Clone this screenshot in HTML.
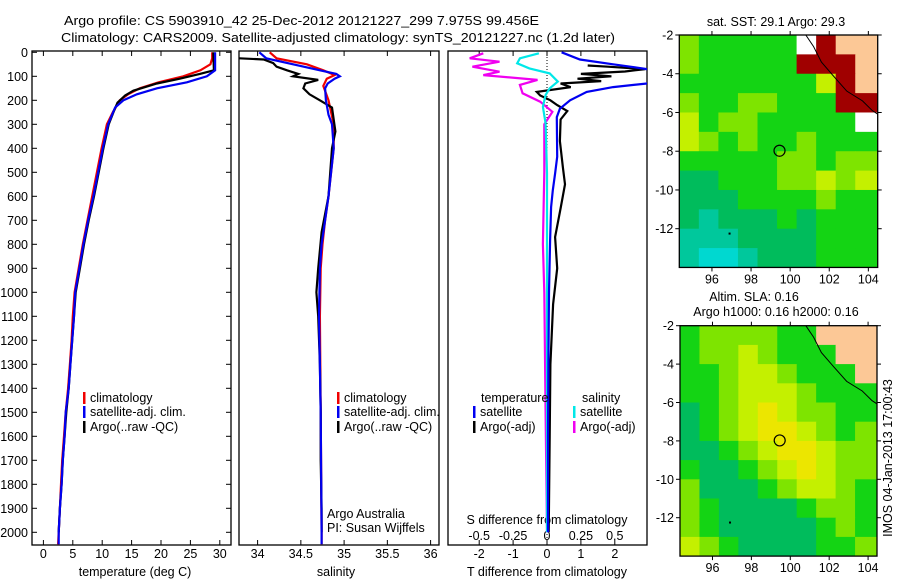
<!DOCTYPE html>
<html><head><meta charset="utf-8"><style>
html,body{margin:0;padding:0;background:#fff;}
svg{display:block;font-family:"Liberation Sans",sans-serif;}
text{fill:#000;}
</style></head><body>
<svg id="fig" width="900" height="580" viewBox="0 0 900 580" xmlns="http://www.w3.org/2000/svg">
<text x="64" y="25" font-size="13" textLength="475" lengthAdjust="spacingAndGlyphs">Argo profile: CS 5903910_42 25-Dec-2012 20121227_299 7.975S 99.456E</text>
<text x="61" y="42" font-size="13" textLength="554" lengthAdjust="spacingAndGlyphs">Climatology: CARS2009. Satellite-adjusted climatology: synTS_20121227.nc (1.2d later)</text>
<g id="g"></g>
</svg>
<script>
// ---------- data ----------
const depthTicks=[0,100,200,300,400,500,600,700,800,900,1000,1100,1200,1300,1400,1500,1600,1700,1800,1900,2000];
const tempTicks=[0,5,10,15,20,25,30];
const salTicks=[34,34.5,35,35.5,36];
const tdiffTicks=[-2,-1,0,1,2];
const sdiffTicks=[-0.5,-0.25,0,0.25,0.5];
const sdiffTickLabels=["-0.5","-0.25","0","0.25","0.5"];

const tClimDepth=[0,25,50,75,100,125,150,175,200,250,300,400,500,600,700,800,900,1000,1100,1200,1300,1400,1500,1600,1700,1800,1900,2000,2050];
const tClimVal=[28.7,28.7,28.4,26.7,23.8,19.6,16.4,14.4,13.0,11.8,10.8,9.9,9.1,8.3,7.5,6.7,6.0,5.3,5.0,4.8,4.5,4.2,3.8,3.5,3.2,3.0,2.8,2.6,2.5];
const tSatDepth=[0,75,100,125,150,175,200,230,300,400,500,600,700,800,900,1000,1100,1200,1300,1400,1500,1600,1700,1800,1900,2000,2050];
const tSatVal=[29.2,29.2,27.8,24.4,19.3,15.9,13.6,12.2,11.0,10.1,9.3,8.5,7.6,6.8,6.1,5.4,5.2,4.9,4.6,4.3,3.8,3.6,3.3,3.1,2.8,2.6,2.6];
const tArgoDepth=[0,75,90,110,130,160,180,210,250,300,400,500,600,700,800,900,1000,1100,1200,1300,1400,1500,1600,1700,1800,1900,2000];
const tArgoVal=[28.9,29.0,26.6,23.2,19.3,15.3,13.9,12.6,11.9,11.1,10.2,9.4,8.6,7.7,6.9,6.2,5.5,5.2,4.9,4.6,4.3,3.9,3.6,3.3,3.1,2.8,2.6];

const sClimDepth=[0,25,50,75,95,110,140,200,300,400,500,600,700,800,900,1100,1500,2000,2050];
const sClimVal=[34.14,34.22,34.57,34.76,34.89,34.80,34.76,34.82,34.88,34.88,34.85,34.82,34.78,34.75,34.73,34.72,34.73,34.74,34.74];
const sSatDepth=[0,25,50,75,90,100,110,130,150,200,260,300,400,500,600,700,800,900,1100,1500,2000,2050];
const sSatVal=[34.02,34.10,34.41,34.72,34.91,34.95,34.89,34.81,34.78,34.79,34.82,34.86,34.88,34.85,34.82,34.78,34.74,34.72,34.71,34.73,34.74,34.74];
const sArgoDepth=[25,30,45,60,75,90,100,115,130,150,175,200,230,280,330,400,600,750,900,1000,1100,1300,1500,1700,1900,2000];
const sArgoVal=[33.79,34.07,34.18,34.22,34.34,34.47,34.41,34.70,34.55,34.53,34.60,34.72,34.86,34.88,34.90,34.86,34.82,34.74,34.70,34.68,34.70,34.72,34.73,34.73,34.74,34.74];

const dTSatDepth=[0,30,50,70,100,130,145,165,200,235,270,435,505,575,645,785,1000,1300,1600,2000];
const dTSatVal=[0.43,0.97,1.95,2.95,3.2,2.95,1.95,1.17,0.68,0.38,0.29,0.30,0.24,0.17,0.12,0.09,0.06,0.04,0.03,0.03];
const dTArgoDepth=[55,60,70,80,90,100,110,120,130,145,165,180,200,220,245,280,370,480,550,650,770,900,1050,1300,1600,2000];
const dTArgoVal=[1.2,1.8,2.9,2.3,1.0,1.9,0.9,1.6,0.4,0.7,-0.3,-0.2,0.1,0.3,0.6,0.4,0.38,0.47,0.53,0.40,0.24,0.30,0.18,0.10,0.08,0.05];
const dSSatDepth=[4,25,46,67,88,122,150,178,227,296,505,1000,2000];
const dSSatVal=[-0.06,-0.20,-0.22,-0.13,0.02,0.08,0.02,-0.01,-0.03,-0.01,0.0,0.0,0.0];
const dSArgoDepth=[4,25,39,60,81,95,115,136,171,206,248,300,500,800,1000,1500,2000];
const dSArgoVal=[-0.47,-0.57,-0.35,-0.55,-0.35,-0.47,-0.07,-0.20,-0.18,-0.05,0.04,-0.02,-0.02,-0.03,-0.02,-0.01,0.0];

const lonTicks=[96,98,100,102,104];
const latTicks=[-2,-4,-6,-8,-10,-12];
const argoLon=99.456, argoLat=-7.975;
// map cell classes: rows from lat -2 southward (1 deg), cols from lon 94.33 eastward (~1 deg)
const sstGrid=["LGGGGGWRPP","LGGGGGRRRP","GGGGGGGYRP","LGGLLGGGRR","YGLLGGGGGW","YLGLGGLGGG","GGGGGLLGLL","TTGGGLLYLY","TTTGGGGLGG","TCTTTGTGGG","CCCTTTTGGG","CAACTTTGGG"];
const slaGrid=["GLLLLGGPPP","GLLYLGGGPP","GGLYYLGGGP","GGLYYYLGGG","TGLYOYLLGG","TGLYOOYLGL","TTGLYOOYLL","GTTGLYOYLL","LTTTGLYYLG","LGTTTTGLLG","LGTTTTTGLG","YLGTTTTGGL"];
const palette={G:"#14d414",L:"#7ee400",Y:"#c4f000",O:"#ece600",T:"#00bc5c",C:"#00c89c",A:"#00d8d0",P:"#fcc896",R:"#a00000",W:"#ffffff"};

// ---------- helpers ----------
const NS="http://www.w3.org/2000/svg";
const root=document.getElementById('g');
function el(tag,attrs,parent){const e=document.createElementNS(NS,tag);for(const k in attrs)e.setAttribute(k,attrs[k]);(parent||root).appendChild(e);return e;}
function txt(x,y,s,size,anchor,parent){const e=el('text',{x:x,y:y,'font-size':size||12.5,'text-anchor':anchor||'start'},parent);e.textContent=s;return e;}
const Y0=52.3, PY=0.24, BOT=545, TOP=51;
const yD=d=>Y0+d*PY;
const xT=v=>43.4+v*5.88;
const xS=v=>257.6+(v-34)*86.5;
const xDT=v=>547+v*33.9;
const xDS=v=>547+v*135.6;

function panel(x0,x1,name){
  const r=el('rect',{x:x0,y:TOP,width:x1-x0,height:BOT-TOP,fill:'#fff',stroke:'#000','stroke-width':1.3});
  
  
}
function line(xs,ds,fx,color,name,clip){
  const pts=xs.map((v,i)=>fx(v).toFixed(1)+','+yD(ds[i]).toFixed(1)).join(' ');
  const p=el('polyline',{points:pts,fill:'none',stroke:color,'stroke-width':2.2,'stroke-linejoin':'miter'});
  if(clip)p.setAttribute('clip-path','url(#'+clip+')');
  
  
}
const defs=el('defs',{});
const cp=el('clipPath',{id:'clip3'},defs);el('rect',{x:448,y:TOP,width:199,height:BOT-TOP},cp);

// panels
panel(32,231,'temperature-panel');
panel(239,439,'salinity-panel');
panel(448,647,'difference-panel');

// depth axis
depthTicks.forEach(d=>{
  const y=yD(d);
  const t=txt(28,y+4.5,String(d),12.5,'end');
  
  
  el('line',{x1:32,x2:37,y1:y,y2:y,stroke:'#000'});
  el('line',{x1:226,x2:231,y1:y,y2:y,stroke:'#000'});
});
// temperature axis
tempTicks.forEach(v=>{
  const x=xT(v);
  const t=txt(x,558,String(v),12.5,'middle');
  
  
  el('line',{x1:x,x2:x,y1:TOP,y2:TOP+5,stroke:'#000'});
  el('line',{x1:x,x2:x,y1:BOT-5,y2:BOT,stroke:'#000'});
});
let a=txt(135,576,'temperature (deg C)',12.5,'middle');


salTicks.forEach(v=>{
  const x=xS(v);
  const t=txt(x,558,String(v),12.5,'middle');
  
  
  el('line',{x1:x,x2:x,y1:TOP,y2:TOP+5,stroke:'#000'});
  el('line',{x1:x,x2:x,y1:BOT-5,y2:BOT,stroke:'#000'});
});
a=txt(336,576,'salinity',12.5,'middle');


tdiffTicks.forEach(v=>{
  const x=xDT(v);
  const t=txt(x,558,String(v),12.5,'middle');
  
  
  el('line',{x1:x,x2:x,y1:TOP,y2:TOP+5,stroke:'#000'});
  el('line',{x1:x,x2:x,y1:BOT-5,y2:BOT,stroke:'#000'});
});
a=txt(547,576,'T difference from climatology',12.5,'middle');


sdiffTicks.forEach((v,i)=>{
  const t=txt(xDS(v),540,sdiffTickLabels[i],12.5,'middle');
  
  
});
a=txt(547,524,'S difference from climatology',12.5,'middle');



// zero dotted line
const z=el('line',{x1:547,x2:547,y1:TOP,y2:BOT,stroke:'#000','stroke-dasharray':'1,2'});



// series
line(tClimVal,tClimDepth,xT,'#f00000','temp-climatology-line');
line(tArgoVal,tArgoDepth,xT,'#000','temp-argo-line');
line(tSatVal,tSatDepth,xT,'#0000f0','temp-satellite-line');
line(sClimVal,sClimDepth,xS,'#f00000','sal-climatology-line');
line(sArgoVal,sArgoDepth,xS,'#000','sal-argo-line');
line(sSatVal,sSatDepth,xS,'#0000f0','sal-satellite-line');
line(dSArgoVal,dSArgoDepth,xDS,'#f000f0','sdiff-argo-line','clip3');
line(dTArgoVal,dTArgoDepth,xDT,'#000','tdiff-argo-line','clip3');
line(dSSatVal,dSSatDepth,xDS,'#00e8e8','sdiff-satellite-line','clip3');
line(dTSatVal,dTSatDepth,xDT,'#0000f0','tdiff-satellite-line','clip3');

// legends
function legend(x,y,color,label,name){
  const g=el('g',{});
  
  
  el('rect',{x:x,y:y-10,width:2.5,height:12,fill:color},g);
  txt(x+7,y,label,12.5,'start',g);
}
legend(83,402,'#f00000','climatology','legend-climatology-temp');
legend(83,416,'#0000f0','satellite-adj. clim.','legend-satellite-temp');
legend(83,431,'#000','Argo(..raw -QC)','legend-argo-temp');
legend(337,402,'#f00000','climatology','legend-climatology-sal');
legend(337,416,'#0000f0','satellite-adj. clim.','legend-satellite-sal');
legend(337,431,'#000','Argo(..raw -QC)','legend-argo-sal');
a=txt(481,402,'temperature');
a=txt(582,402,'salinity');
legend(473,416,'#0000f0','satellite','legend-tdiff-satellite');
legend(473,431,'#000','Argo(-adj)','legend-tdiff-argo');
legend(573,416,'#00e8e8','satellite','legend-sdiff-satellite');
legend(573,431,'#f000f0','Argo(-adj)','legend-sdiff-argo');
a=txt(327,518,'Argo Australia');
a=txt(327,532,'PI: Susan Wijffels');

// maps
function map(left,right,top,latTop,latPx,lonPx,grid,name,coast){
  const lon0=94.33;
  const xL=v=>left+(v-lon0)*lonPx;
  const yL=v=>top+(latTop-v)*latPx;
  const bottom=yL(-14);
  const mc='mclip'+name;
  const c=el('clipPath',{id:mc},defs);el('rect',{x:left,y:top,width:right-left,height:bottom-top},c);
  const g=el('g',{'clip-path':'url(#'+mc+')'});
  
  
  grid.forEach((row,ri)=>{
    for(let ci=0;ci<row.length;ci++){
      const x=xL(lon0+ci), y=yL(latTop-ri);
      const w=(ci===row.length-1)?(right-x):lonPx+0.5;
      const r=el('rect',{x:x,y:y,width:w,height:latPx+0.5,fill:palette[row[ci]]},g);
      
      
    }
  });
  // coast line
  el('polyline',{points:coast.map(p=>xL(p[0])+','+yL(p[1])).join(' '),fill:'none',stroke:'#000','stroke-width':1},g);
  el('rect',{x:left,y:top,width:right-left,height:bottom-top,fill:'none',stroke:'#000','stroke-width':1.3});
  const circ=el('circle',{cx:xL(argoLon),cy:yL(argoLat),r:5.5,fill:'none',stroke:'#000','stroke-width':1.2});
  
  
  el('rect',{x:xL(96.85),y:yL(-12.2),width:2,height:2,fill:'#000'});
  lonTicks.forEach(v=>{
    const x=xL(v);
    el('line',{x1:x,x2:x,y1:bottom,y2:bottom+4,stroke:'#000'});
    el('line',{x1:x,x2:x,y1:top-4,y2:top,stroke:'#000'});
    const t=txt(x,bottom+16,String(v),12.5,'middle');
    
    
  });
  latTicks.forEach(v=>{
    const y=yL(v);
    el('line',{x1:left-4,x2:left,y1:y,y2:y,stroke:'#000'});
    el('line',{x1:right,x2:right+4,y1:y,y2:y,stroke:'#000'});
    const t=txt(left-6,y+4.5,String(v),12.5,'end');
    
    
  });
}
const coastPts=[[100.8,-2],[101.2,-2.6],[101.6,-3.4],[102.2,-4.1],[102.9,-4.9],[103.7,-5.4],[104.2,-5.9],[104.5,-6.1]];
map(679.3,877.7,35,-2,19.37,19.55,sstGrid,'sst-map',coastPts);
map(680,877,325.7,-2,19.2,19.45,slaGrid,'sla-map',coastPts);
a=txt(776,26,'sat. SST: 29.1  Argo: 29.3',12.5,'middle');
a=txt(754,301,'Altim. SLA: 0.16',12.5,'middle');
a=txt(776,316,'Argo h1000: 0.16 h2000: 0.16',12.5,'middle');
a=txt(0,0,'IMOS 04-Jan-2013 17:00:43',12.5,'middle');
a.setAttribute('transform','translate(892,458) rotate(-90)');

</script>
</body></html>
